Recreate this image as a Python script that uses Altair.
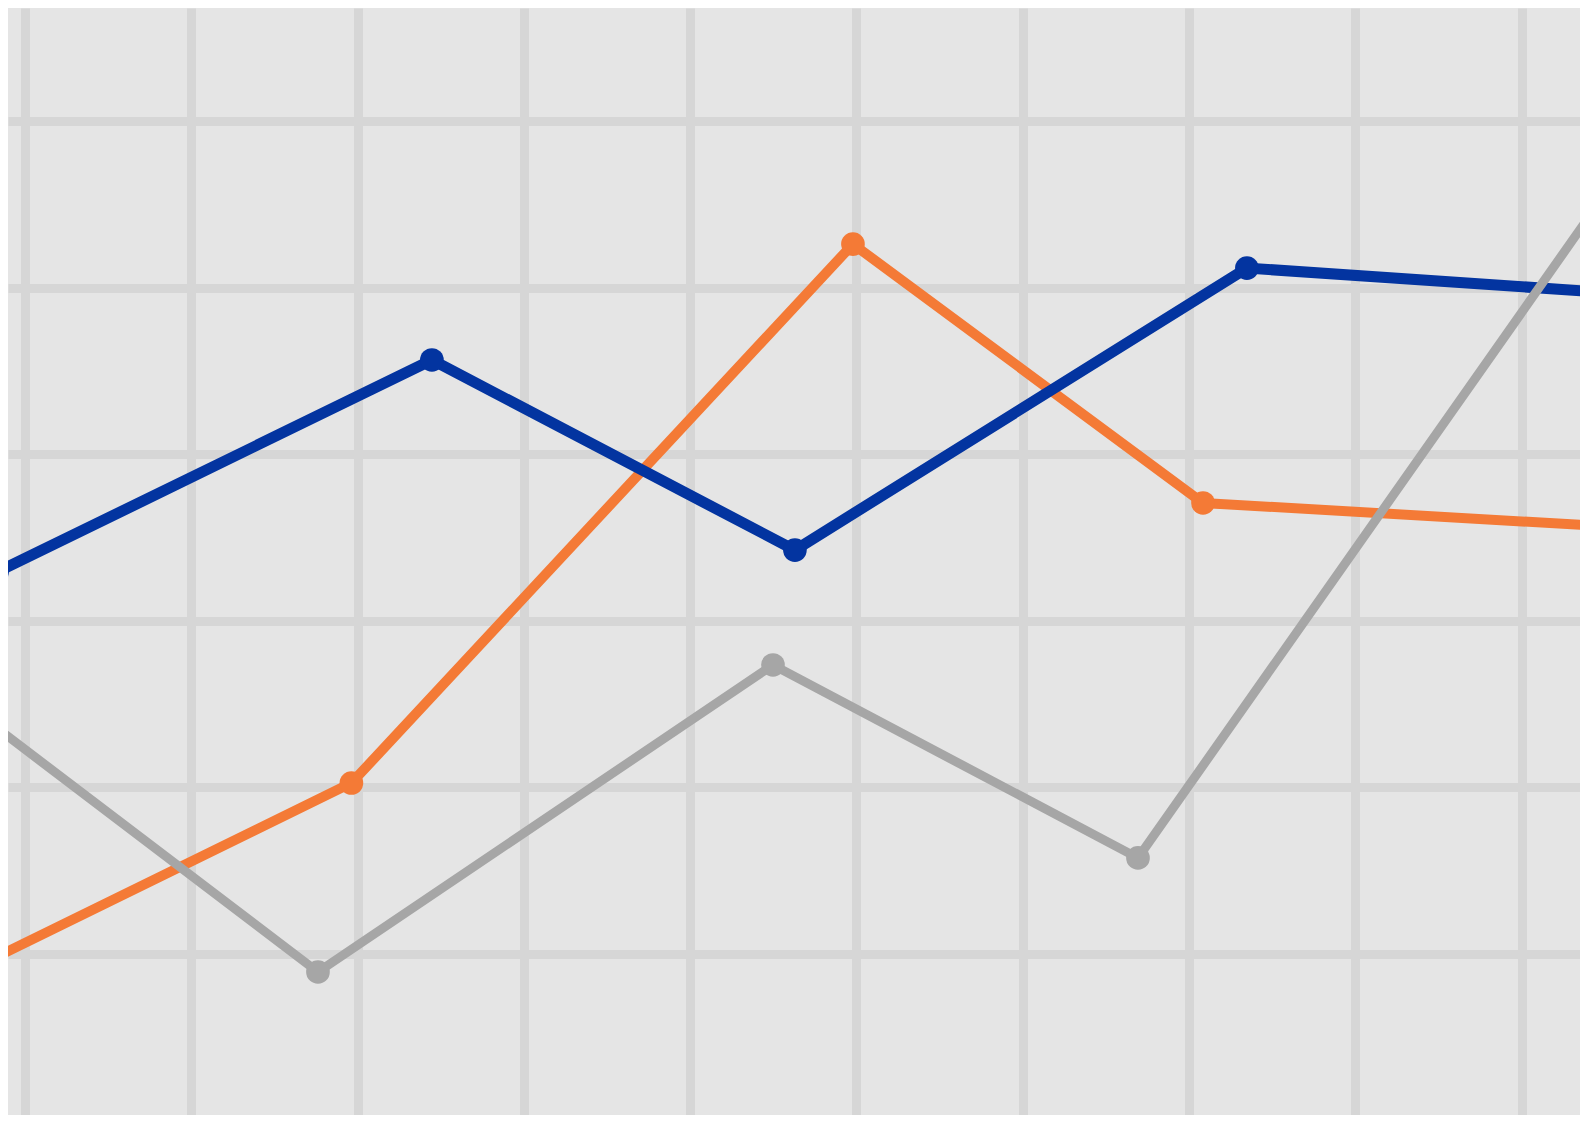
import altair as alt
import pandas as pd

# Series values (x and y in grid-cell units)
blue_x = [-0.168, 2.447, 4.630, 7.348, 9.471]
blue_y = [3.291, 4.565, 3.423, 5.117, 4.973]

orange_x = [-0.271, 1.963, 4.979, 7.084, 9.471]
orange_y = [0.931, 2.024, 5.261, 3.706, 3.568]

gray_x = [-0.271, 1.762, 4.498, 6.693, 9.531]
gray_y = [2.432, 0.889, 2.733, 1.574, 5.604]

x_grid = list(range(0, 10))
y_grid = list(range(0, 7))

x_domain = [-0.102, 9.351]
y_domain = [0.030, 6.679]

BG = "#e5e5e5"
GRID = "#d6d6d6"

xs = alt.Scale(domain=x_domain, nice=False, zero=False)
ys = alt.Scale(domain=y_domain, nice=False, zero=False)

x_axis = alt.Axis(values=x_grid, labels=False, ticks=False, domain=False, title=None,
                  grid=True, gridColor=GRID, gridWidth=9, gridOpacity=1)
y_axis = alt.Axis(values=y_grid, labels=False, ticks=False, domain=False, title=None,
                  grid=True, gridColor=GRID, gridWidth=9, gridOpacity=1)


def series(xv, yv, color, width, size):
    df = pd.DataFrame({"x": xv, "y": yv, "order": range(len(xv))})
    base = alt.Chart(df)
    line = base.mark_line(color=color, strokeWidth=width, clip=True).encode(
        x=alt.X("x:Q", scale=xs, axis=x_axis),
        y=alt.Y("y:Q", scale=ys, axis=y_axis),
        order="order:Q",
    )
    pts = base.mark_circle(color=color, opacity=1, size=size, clip=True).encode(
        x=alt.X("x:Q", scale=xs),
        y=alt.Y("y:Q", scale=ys),
    )
    return line + pts


chart = alt.layer(
    series(orange_x, orange_y, "#f47a36", 10, 560),
    series(blue_x, blue_y, "#0334a0", 11, 560),
    series(gray_x, gray_y, "#a6a6a6", 9, 560),
).properties(
    width=1572, height=1107, padding=0,
    autosize=alt.AutoSizeParams(type="none"),
    background=BG,
).configure_view(stroke=None, fill=BG)

chart.save("out.html", embed_options={"renderer": "svg", "actions": False})
